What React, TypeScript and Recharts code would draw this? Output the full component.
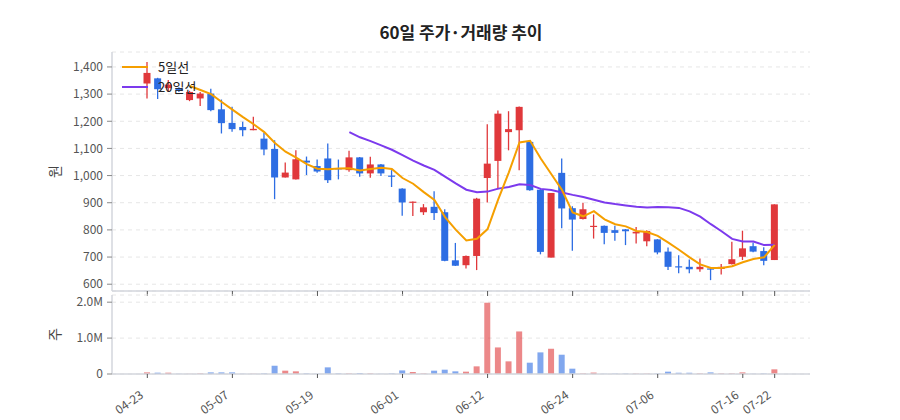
import { Bar, CartesianGrid, Cell, ComposedChart, Line, XAxis, YAxis } from "recharts";

const dates = [
  "04-23", "04-24", "04-25", "04-28", "04-29", "04-30", "05-01", "05-02", "05-07", "05-08",
  "05-09", "05-12", "05-13", "05-14", "05-15", "05-16", "05-19", "05-20", "05-21", "05-22",
  "05-23", "05-26", "05-27", "05-28", "06-01", "06-02", "06-03", "06-04", "06-05", "06-09",
  "06-10", "06-11", "06-12", "06-13", "06-16", "06-17", "06-18", "06-19", "06-20", "06-23",
  "06-24", "06-25", "06-26", "06-27", "06-30", "07-01", "07-02", "07-03", "07-06", "07-07",
  "07-08", "07-09", "07-10", "07-11", "07-14", "07-15", "07-16", "07-17", "07-18", "07-22",
];

const opens = [
  1339, 1358, 1322, 1322, 1278, 1284, 1302, 1244, 1194, 1179,
  1167, 1136, 1098, 993, 986, 1055, 1035, 1063, 1027, 1020,
  1067, 1008, 1041, 1000, 952, 901, 865, 885, 865, 688,
  670, 704, 991, 1054, 1160, 1167, 1124, 948, 698, 1010,
  880, 840, 812, 815, 799, 802, 787, 758, 765, 720,
  666, 664, 655, 658, 656, 674, 701, 740, 722, 689,
];

const highs = [
  1418, 1360, 1352, 1325, 1312, 1308, 1320, 1280, 1253, 1198,
  1217, 1158, 1130, 1048, 1093, 1070, 1059, 1118, 1059, 1091,
  1068, 1069, 1043, 1020, 953, 905, 895, 942, 876, 752,
  706, 918, 1189, 1240, 1237, 1254, 1128, 950, 936, 1063,
  887, 900, 857, 816, 815, 803, 811, 799, 766, 735,
  707, 691, 695, 660, 674, 756, 797, 754, 736, 894,
];

const lows = [
  1284, 1282, 1308, 1308, 1274, 1256, 1237, 1155, 1161, 1145,
  1167, 1075, 913, 993, 986, 1002, 1010, 973, 986, 1014,
  996, 992, 998, 958, 852, 851, 855, 836, 685, 667,
  658, 652, 901, 950, 1093, 1020, 944, 710, 698, 806,
  723, 838, 768, 747, 760, 744, 750, 740, 710, 652,
  640, 640, 646, 615, 636, 673, 689, 718, 670, 689,
];

const closes = [
  1378, 1318, 1335, 1312, 1308, 1302, 1241, 1193, 1171, 1167,
  1172, 1096, 993, 1011, 1060, 1048, 1015, 983, 1023, 1067,
  1008, 1041, 1008, 998, 901, 904, 883, 862, 686, 668,
  704, 915, 1044, 1228, 1171, 1253, 946, 719, 936, 879,
  838, 876, 815, 789, 789, 795, 793, 796, 717, 664,
  663, 655, 664, 655, 664, 692, 732, 720, 686, 894,
];

const volumes = [
  45000, 37000, 37000, 5000, 5000, 15000, 45000, 45000, 45000, 5000,
  5000, 15000, 230000, 93000, 74000, 15000, 5000, 185000, 15000, 15000,
  25000, 15000, 5000, 15000, 100000, 55000, 15000, 93000, 120000, 74000,
  65000, 213000, 1985000, 740000, 352000, 1185000, 315000, 602000, 703000, 537000,
  148000, 15000, 40000, 5000, 10000, 10000, 10000, 10000, 10000, 65000,
  35000, 35000, 15000, 45000, 15000, 15000, 45000, 5000, 12000, 130000,
];

const ma5 = [
  null, null, null, null, 1330, 1315, 1300, 1271, 1243, 1215,
  1189, 1160, 1120, 1088, 1066, 1042, 1025, 1023, 1026, 1027,
  1019, 1024, 1029, 1024, 991, 970, 939, 910, 847, 801,
  761, 767, 803, 912, 1012, 1122, 1128, 1063, 1005, 947,
  864, 850, 869, 839, 821, 813, 796, 792, 778, 753,
  727, 699, 673, 660, 660, 666, 681, 693, 699, 745,
];

const ma20 = [
  null, null, null, null, null, null, null, null, null, null,
  null, null, null, null, null, null, null, null, null, 1160,
  1141, 1127, 1111, 1095, 1075, 1055, 1037, 1021, 996, 971,
  948, 939, 941, 952, 958, 968, 965, 951, 947, 938,
  929, 921, 911, 901, 895, 890, 885, 882, 884, 883,
  881, 868, 849, 821, 795, 767, 757, 757, 744, 745,
];

const tickLabels = ["04-23", "05-07", "05-19", "06-01", "06-12", "06-24", "07-06", "07-16", "07-22"];
const priceTicks = [600, 700, 800, 900, 1000, 1100, 1200, 1300, 1400];
const volumeTicks = [0, 1000000, 2000000];

const RED = "#e0383b";
const BLUE = "#2d6de3";
const ORANGE = "#f59f00";
const PURPLE = "#7c3aed";
const AXIS = "#d3d6dd";
const FONT = '"Noto Sans CJK KR", "Noto Sans", sans-serif';

const rows = dates.map((date, i) => ({
  date,
  open: opens[i],
  high: highs[i],
  low: lows[i],
  close: closes[i],
  range: [lows[i], highs[i]],
  volume: volumes[i],
  ma5: ma5[i],
  ma20: ma20[i],
}));

function Candle(props: any) {
  const { x, y, width, height, payload } = props;
  if (x == null || y == null) return null;
  const { open, close, high, low } = payload;
  const color = close >= open ? RED : BLUE;
  const span = high - low || 1;
  const toY = (v: number) => y + ((high - v) / span) * height;
  const top = toY(Math.max(open, close));
  const bottom = toY(Math.min(open, close));
  const cx = x + width / 2;
  return (
    <g>
      <line x1={cx} x2={cx} y1={y} y2={y + height} stroke={color} strokeWidth={1.3} />
      <rect x={cx - 3.5} y={top} width={7} height={Math.max(bottom - top, 1.2)} fill={color} />
    </g>
  );
}

function DateTick(props: any) {
  const { x, y, payload } = props;
  const tx = x - 3;
  const ty = y + 17;
  return (
    <text
      x={tx}
      y={ty}
      textAnchor="end"
      transform={`rotate(-35 ${tx} ${ty})`}
      fill="#555"
      fontSize={12}
      fontFamily={FONT}
    >
      {payload.value}
    </text>
  );
}

function formatVolume(v: number) {
  if (v === 0) return "0";
  return `${(v / 1000000).toFixed(1)}M`;
}

function LegendItem({ top, color, label }: { top: number; color: string; label: string }) {
  return (
    <div style={{ position: "absolute", left: 122, top: top - 9, height: 18, display: "flex", alignItems: "center" }}>
      <div style={{ width: 26, height: 2.5, background: color }} />
      <span style={{ marginLeft: 10, fontSize: 13, color: "#222", lineHeight: "18px" }}>{label}</span>
    </div>
  );
}

export default function App() {
  return (
    <div
      style={{
        position: "absolute",
        left: 0,
        top: 0,
        width: 900,
        height: 420,
        background: "#fff",
        fontFamily: FONT,
      }}
    >
      <div style={{ position: "absolute", left: 0, top: 0 }}>
        <ComposedChart width={900} height={296} data={rows} margin={{ top: 52, right: 90, bottom: 0, left: 0 }}>
          <CartesianGrid vertical={false} stroke="#e6e6e6" strokeDasharray="4 4" />
          <XAxis
            dataKey="date"
            ticks={tickLabels}
            interval={0}
            padding={{ left: 30, right: 30 }}
            height={5}
            tickSize={5}
            tickFormatter={() => ""}
            axisLine={{ stroke: AXIS, strokeWidth: 1.5 }}
            tickLine={{ stroke: "#555" }}
          />
          <YAxis
            domain={[575, 1455]}
            ticks={priceTicks}
            width={112}
            tickSize={5}
            tickMargin={4}
            axisLine={{ stroke: AXIS, strokeWidth: 1.5 }}
            tickLine={{ stroke: "#888" }}
            tick={{ fill: "#555", fontSize: 12, fontFamily: FONT }}
            tickFormatter={(v: number) => v.toLocaleString("en-US")}
            label={{ value: "원", angle: -90, position: "center", fill: "#444", fontSize: 14, dx: -1 }}
          />
          <Bar dataKey="range" barSize={8} shape={<Candle />} isAnimationActive={false} />
          <Line type="linear" dataKey="ma20" stroke={PURPLE} strokeWidth={2} dot={false} isAnimationActive={false} />
          <Line type="linear" dataKey="ma5" stroke={ORANGE} strokeWidth={2} dot={false} isAnimationActive={false} />
        </ComposedChart>
      </div>

      <div style={{ position: "absolute", left: 0, top: 290 }}>
        <ComposedChart width={900} height={130} data={rows} margin={{ top: 5, right: 90, bottom: 0, left: 0 }}>
          <CartesianGrid vertical={false} stroke="#e6e6e6" strokeDasharray="4 4" />
          <XAxis
            dataKey="date"
            ticks={tickLabels}
            interval={0}
            padding={{ left: 30, right: 30 }}
            height={46}
            tickSize={4}
            tickMargin={2}
            tick={<DateTick />}
            axisLine={{ stroke: AXIS, strokeWidth: 1.5 }}
            tickLine={{ stroke: "#555" }}
          />
          <YAxis
            domain={[0, 2200000]}
            ticks={volumeTicks}
            width={112}
            tickSize={5}
            tickMargin={4}
            axisLine={{ stroke: AXIS, strokeWidth: 1.5 }}
            tickLine={{ stroke: "#888" }}
            tick={{ fill: "#555", fontSize: 12, fontFamily: FONT }}
            tickFormatter={formatVolume}
            label={{ value: "주", angle: -90, position: "center", fill: "#444", fontSize: 14, dx: -1 }}
          />
          <Bar dataKey="volume" barSize={6} isAnimationActive={false}>
            {rows.map((r, i) => (
              <Cell key={i} fill={r.close >= r.open ? RED : BLUE} fillOpacity={0.6} />
            ))}
          </Bar>
        </ComposedChart>
      </div>

      <div
        style={{
          position: "absolute",
          left: 112,
          width: 698,
          top: 20,
          textAlign: "center",
          fontSize: 17,
          fontWeight: 700,
          color: "#222",
          lineHeight: "24px",
        }}
      >
        60일 주가·거래량 추이
      </div>

      <LegendItem top={67} color={ORANGE} label="5일선" />
      <LegendItem top={87} color={PURPLE} label="20일선" />
    </div>
  );
}
